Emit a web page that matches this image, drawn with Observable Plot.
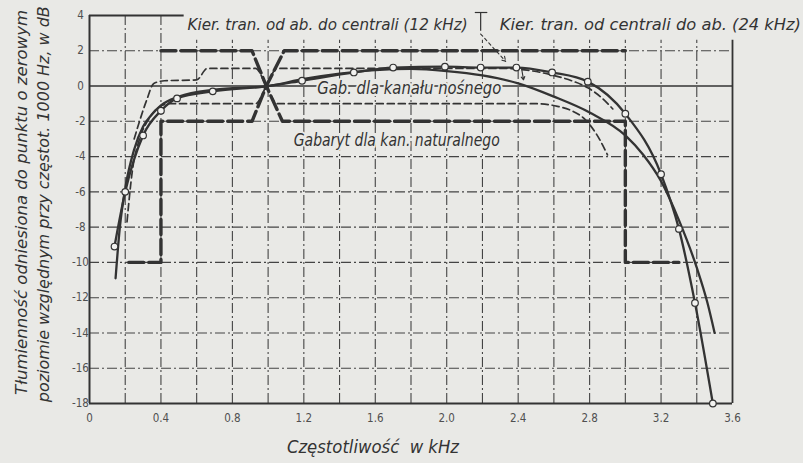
<!DOCTYPE html>
<html><head><meta charset="utf-8">
<script src="https://cdn.jsdelivr.net/npm/d3@7"></script>
<script src="https://cdn.jsdelivr.net/npm/@observablehq/plot@0.6"></script>
<style>
html,body{margin:0;padding:0;background:#e9e9e6;}
#chart svg{display:block;}
</style></head><body><div id="chart"></div>
<script>
// ---- tick labels / grid positions ----
const xTicks = [0, 0.4, 0.8, 1.2, 1.6, 2.0, 2.4, 2.8, 3.2, 3.6];
const yTicks = [4, 2, 0, -2, -4, -6, -8, -10, -12, -14, -16, -18];
const xGrid = [0.2, 0.4, 0.6, 0.8, 1.0, 1.2, 1.4, 1.6, 1.8, 2.0, 2.2, 2.4, 2.6, 2.8, 3.0, 3.2, 3.4];
const yGrid = [2, 0, -2, -4, -6, -8, -10, -12, -14, -16];

// ---- measured curve with circles (kHz, dB) ----
const curveA = [[0.14,-9.1],[0.2,-6.0],[0.3,-2.8],[0.4,-1.4],[0.49,-0.7],[0.69,-0.3],[1.0,0],
  [1.19,0.3],[1.48,0.77],[1.7,1.05],[1.99,1.1],[2.19,1.05],[2.39,1.05],[2.59,0.77],[2.79,0.25],
  [3.0,-1.57],[3.2,-5.0],[3.3,-8.1],[3.39,-12.3],[3.49,-18]];
// ---- measured curve without circles ----
const curveB = [[0.146,-10.9],[0.17,-8],[0.2,-5.8],[0.25,-3.6],[0.3,-2.3],[0.35,-1.6],[0.4,-1.1],
  [0.5,-0.6],[0.7,-0.2],[1.0,0],[1.2,0.4],[1.4,0.7],[1.6,0.9],[1.8,0.97],[2.0,0.85],[2.2,0.6],
  [2.4,0.15],[2.6,-0.6],[2.8,-1.5],[3.0,-2.8],[3.1,-3.9],[3.2,-5.4],[3.3,-7.6],[3.4,-10.3],
  [3.46,-12.3],[3.5,-14.0]];
// ---- gabaryt for natural channel (thick dashed) ----
const gabNat1 = [[0.22,-10],[0.4,-10],[0.4,-2],[0.91,-2],[0.99,0],[1.09,2],[3.0,2]];
const gabNat2 = [[0.4,2],[0.91,2],[0.99,0],[1.08,-2],[3.0,-2],[3.0,-10],[3.3,-10]];
// ---- gabaryt for carrier channel (thin dashed) ----
const gabCar1 = [[0.25,-3.0],[0.28,-2],[0.32,-0.8],[0.36,0.15],[0.42,0.3],[0.6,0.35],[0.66,1.0],
  [0.93,1.0],[0.99,0],[1.05,-1],[2.5,-1],[2.62,-1.15],[2.7,-1.4],[2.77,-1.85],[2.86,-3.1],[2.9,-3.9]];
const gabCar2 = [[0.21,-7.7],[0.24,-4.8],[0.28,-3.0],[0.33,-1.9],[0.39,-1.2],[0.45,-1.0],[0.93,-1],
  [0.99,0],[1.05,1],[2.3,1],[2.45,0.9],[2.6,0.6],[2.7,0.3],[2.79,-0.1],[2.86,-0.6],[2.93,-1.3]];

// ---- texts ----
const legend1 = "Kier. tran. od ab. do centrali (12 kHz)";
const legend2 = "Kier. tran. od centrali do ab. (24 kHz)";
const labelCarrier = "Gab. dla kanału nośnego";
const labelNatural = "Gabaryt dla kan. naturalnego";
const xTitle = "Częstotliwość  w kHz";
const yTitle1 = "Tłumienność odniesiona do punktu o zerowym";
const yTitle2 = "poziomie względnym przy częstot. 1000 Hz, w dB";

const ink = "#333333", bg = "#e9e9e6";
const font = "'DejaVu Sans Condensed','Liberation Sans Narrow','DejaVu Sans',sans-serif";
const X = d => d[0], Y = d => d[1];

const textLengths = {};
textLengths[legend1] = 280; textLengths[legend2] = 301;
textLengths[labelCarrier] = 184; textLengths[labelNatural] = 206;
textLengths[xTitle] = 172; textLengths[yTitle1] = 385; textLengths[yTitle2] = 396;

const chart = Plot.plot({
  width: 803, height: 463,
  marginLeft: 89, marginRight: 71, marginTop: 15, marginBottom: 60,
  x: {domain: [0, 3.6]},
  y: {domain: [-18, 4]},
  style: {background: bg, fontFamily: font, color: ink, overflow: "visible"},
  marks: [
    // grid
    Plot.ruleY(yGrid.filter(d => d !== 0), {x1: 0, x2: 3.6, stroke: "#444", strokeWidth: 1.1, strokeDasharray: "10,3,2,3"}),
    Plot.ruleY([0], {x1: 0, x2: 3.6, stroke: ink, strokeWidth: 1.4}),
    Plot.ruleX(xGrid, {y1: -18, y2: d => d <= 0.4 ? 4 : 2.6, stroke: "#444", strokeWidth: 1.1, strokeDasharray: "10,3,2,3"}),
    // frame (partial)
    Plot.ruleX([0], {y1: -18, y2: 4, stroke: ink, strokeWidth: 2}),
    Plot.ruleY([-18], {x1: 0, x2: 3.6, stroke: ink, strokeWidth: 2}),
    Plot.ruleX([3.6], {y1: -18, y2: 2.6, stroke: ink, strokeWidth: 1.8}),
    Plot.ruleY([4], {x1: 0, x2: 0.53, stroke: ink, strokeWidth: 1.8}),
    // gabaryt lines
    Plot.line(gabNat1, {x: X, y: Y, stroke: ink, strokeWidth: 3.4, strokeDasharray: "15,5"}),
    Plot.line(gabNat2, {x: X, y: Y, stroke: ink, strokeWidth: 3.4, strokeDasharray: "15,5"}),
    Plot.line(gabCar1, {x: X, y: Y, stroke: ink, strokeWidth: 1.7, strokeDasharray: "7,4", curve: "monotone-x"}),
    Plot.line(gabCar2, {x: X, y: Y, stroke: ink, strokeWidth: 1.7, strokeDasharray: "7,4", curve: "monotone-x"}),
    // measured curves
    Plot.line(curveB, {x: X, y: Y, stroke: ink, strokeWidth: 2.3, curve: "monotone-x"}),
    Plot.line(curveA, {x: X, y: Y, stroke: ink, strokeWidth: 2.3, curve: "monotone-x"}),
    Plot.dot(curveA.filter(d => d[0] !== 1.0), {x: X, y: Y, r: 3.3, fill: "#f2f2f0", stroke: ink, strokeWidth: 1.2}),
    // legend leaders
    Plot.ruleY([4.17], {x1: 2.16, x2: 2.23, stroke: ink, strokeWidth: 1.2}),
    Plot.ruleX([2.19], {y1: 4.17, y2: 3.1, stroke: ink, strokeWidth: 1.2}),
    Plot.arrow([[2.19, 2.95, 2.33, 1.4]], {x1: d => d[0], y1: d => d[1], x2: d => d[2], y2: d => d[3], stroke: ink, strokeWidth: 1.1, strokeDasharray: "3,3", headLength: 7, insetEnd: 0}),
    Plot.arrow([[2.42, 0.95, 2.43, 0.35]], {x1: d => d[0], y1: d => d[1], x2: d => d[2], y2: d => d[3], stroke: ink, strokeWidth: 1.1, headLength: 6, insetEnd: 0}),
    // axes
    Plot.axisX({ticks: xTicks, tickSize: 0, tickPadding: 10, tickFormat: d => d === 0 ? "0" : d.toFixed(1), fontSize: 11.5, label: null, fill: "#505050"}),
    Plot.axisY({ticks: yTicks, tickSize: 0, tickPadding: 9, textAnchor: "middle", tickFormat: d => String(d), fontSize: 11.5, label: null, fill: "#505050"}),
    // texts
    Plot.text([legend1], {x: 1.333, y: 3.49, text: d => d, fontSize: 16.5, fontStyle: "italic", fill: ink}),
    Plot.text([legend2], {x: 3.14, y: 3.49, text: d => d, fontSize: 16.5, fontStyle: "italic", fill: ink}),
    Plot.text([labelCarrier], {x: 1.79, y: -0.12, text: d => d, fontSize: 18, fontStyle: "italic", fill: ink, stroke: bg, strokeWidth: 4}),
    Plot.text([labelNatural], {x: 1.72, y: -3.09, text: d => d, fontSize: 18, fontStyle: "italic", fill: ink, stroke: bg, strokeWidth: 4}),
    Plot.text([xTitle], {x: 1.587, y: -20.46, text: d => d, fontSize: 18, fontStyle: "italic", fill: ink}),
    Plot.text([yTitle1], {x: -0.375, y: -6.6, text: d => d, fontSize: 15.5, fontStyle: "italic", rotate: -90, fill: ink}),
    Plot.text([yTitle2], {x: -0.257, y: -6.7, text: d => d, fontSize: 15.5, fontStyle: "italic", rotate: -90, fill: ink})
  ]
});

d3.select(chart).selectAll("text").each(function() {
  const t = this.textContent;
  if (textLengths[t]) {
    this.setAttribute("textLength", textLengths[t]);
    this.setAttribute("lengthAdjust", "spacingAndGlyphs");
  }
});
document.getElementById("chart").appendChild(chart);
</script>
</body></html>
